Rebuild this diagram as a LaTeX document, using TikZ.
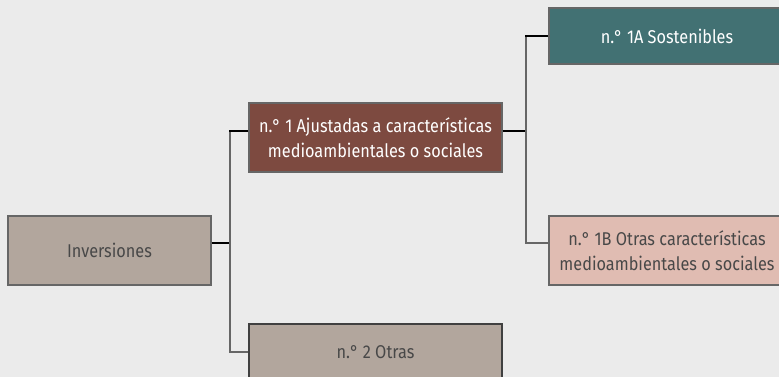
\documentclass[tikz,border=0pt]{standalone}
\usepackage{fontspec}
\setmainfont{Fira Sans}[FakeStretch=0.88]
\usepackage{tikz}
\definecolor{mist}{RGB}{235,235,235}
\definecolor{taupe}{RGB}{178,166,157}
\definecolor{rust}{RGB}{125,74,64}
\definecolor{petrol}{RGB}{66,113,115}
\definecolor{blush}{RGB}{224,188,178}
\definecolor{frame}{RGB}{102,102,102}
\definecolor{ink}{RGB}{72,72,72}

\tikzset{
  caja/.style={draw=frame, line width=1.3pt, inner sep=0pt, align=center,
               font=\fontsize{18.5}{25}\selectfont, text=ink},
  rama/.style={line width=1.2pt, color=frame},
  tronco/.style={line width=1.2pt, color=black},
}

\begin{document}
\begin{tikzpicture}[x=1pt, y=-1pt]
            \fill[mist] (0,0) rectangle (779,377);
            \useasboundingbox (0,0) rectangle (779,377);
            \node[caja, fill=taupe,  minimum width=203pt, minimum height=69pt] (inv)  at (109.5,250.5) {Inversiones};
            \node[caja, fill=rust,   minimum width=253pt, minimum height=69pt, text=white] (uno) at (375.5,137.5)
                 {n.° 1 Ajustadas a características\\medioambientales o sociales};
            \node[caja, fill=taupe,  minimum width=253pt, minimum height=56pt, draw=black!75] (dos) at (375.5,352) {n.° 2 Otras};
            \node[caja, fill=petrol, minimum width=236pt, minimum height=56pt, text=white] (unoA) at (667,36) {n.° 1A Sostenibles};
            \node[caja, fill=blush,  minimum width=236pt, minimum height=69pt] (unoB) at (667,250.5)
                 {n.° 1B Otras características\\medioambientales o sociales};
            % junctions
            \coordinate (j1) at (230,243);
            \coordinate (j2) at (526,131);
            % Inversiones -> n.° 1 / n.° 2
            \draw[tronco] ([yshift=7.5pt]inv.east) -- (j1);
            \draw[rama]   ([yshift=6.5pt]uno.west) -| (j1) |- (dos.west);
            \draw[tronco] ([yshift=6.5pt]uno.west) -- ++(-19,0);
            % n.° 1 -> 1A / 1B
            \draw[tronco] ([yshift=6.5pt]uno.east) -- (j2);
            \draw[rama]   (unoA.west) -| (j2) |- ([yshift=7.5pt]unoB.west);
            \draw[tronco] (unoA.west) -- ++(-23,0);
\end{tikzpicture}
\end{document}
